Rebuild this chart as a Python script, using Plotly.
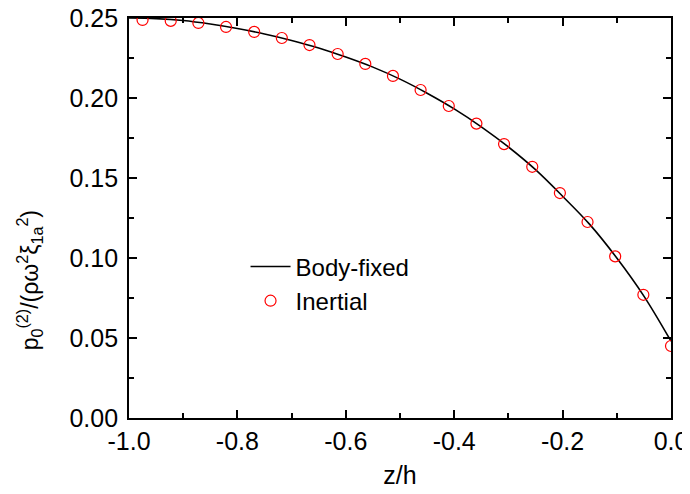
import plotly.graph_objects as go

# Body-fixed (solid line) readings
line_z = [-1.00, -0.95, -0.90, -0.85, -0.80, -0.75, -0.70, -0.65, -0.60, -0.55, -0.50,
          -0.45, -0.40, -0.35, -0.30, -0.25, -0.20, -0.15, -0.10, -0.05, 0.00]
line_p = [0.2500, 0.2496, 0.2484, 0.2462, 0.2434, 0.2400, 0.2360, 0.2313, 0.2256, 0.2193, 0.2118,
          0.2030, 0.1932, 0.1820, 0.1694, 0.1552, 0.1386, 0.1210, 0.1000, 0.0762, 0.0480]

# Inertial (open circles) readings
pt_z = [-0.975, -0.923, -0.872, -0.821, -0.769, -0.718, -0.667, -0.615, -0.564, -0.513,
        -0.462, -0.410, -0.359, -0.308, -0.256, -0.205, -0.154, -0.103, -0.051, 0.000]
pt_p = [0.2488, 0.2482, 0.2469, 0.2444, 0.2413, 0.2375, 0.2331, 0.2275, 0.2213, 0.2138,
        0.2050, 0.1950, 0.1840, 0.1712, 0.1570, 0.1406, 0.1225, 0.1010, 0.0770, 0.0450]

x_tickvals = [-1.0, -0.8, -0.6, -0.4, -0.2, 0.0]
x_ticktext = ["-1.0", "-0.8", "-0.6", "-0.4", "-0.2", "0.0"]
y_tickvals = [0.00, 0.05, 0.10, 0.15, 0.20, 0.25]
y_ticktext = ["0.00", "0.05", "0.10", "0.15", "0.20", "0.25"]

x_title = "z/h"
y_title = "p<sub>0</sub><sup>(2)</sup>/(ρω<sup>2</sup>ξ<sub>1a</sub><sup>2</sup>)"

FONT = "Arial, Liberation Sans, sans-serif"

fig = go.Figure()
fig.add_trace(go.Scatter(x=line_z, y=line_p, mode="lines", name="Body-fixed",
                         line=dict(color="black", width=1.6, shape="spline")))
fig.add_trace(go.Scatter(x=pt_z, y=pt_p, mode="markers", name="Inertial",
                         marker=dict(symbol="circle-open", size=11, color="red",
                                     line=dict(width=1.2, color="red"))))

axis_common = dict(showline=True, linecolor="black", linewidth=1.8, mirror="ticks",
                   ticks="inside", ticklen=8, tickwidth=1.5, tickcolor="black",
                   showgrid=False, zeroline=False, ticklabeloverflow="allow",
                   tickfont=dict(family=FONT, size=25, color="black"))

fig.update_xaxes(range=[-1.0, 0.0], tickvals=x_tickvals, ticktext=x_ticktext,
                 minor=dict(ticks="inside", ticklen=5, tickwidth=1.5, tickcolor="black",
                            dtick=0.1, showgrid=False),
                 title=dict(text=x_title, font=dict(family=FONT, size=25, color="black"), standoff=13),
                 **axis_common)
fig.update_yaxes(range=[0.0, 0.25], tickvals=y_tickvals, ticktext=y_ticktext,
                 ticklabelstandoff=4,
                 minor=dict(ticks="inside", ticklen=5, tickwidth=1.5, tickcolor="black",
                            dtick=0.025, showgrid=False),
                 **axis_common)

fig.add_annotation(text=y_title, textangle=-90, xref="paper", yref="paper",
                   x=-0.184, y=0.345, xanchor="center", yanchor="middle", showarrow=False,
                   font=dict(family=FONT, size=23, color="black"))

# page body has an 8px margin: figure is sized so the plot area lands where the reference has it
fig.update_layout(
    width=682, height=486,
    margin=dict(l=121, r=19, t=10, b=76, autoexpand=False),
    plot_bgcolor="white", paper_bgcolor="white",
    font=dict(family=FONT, size=25, color="black"),
    legend=dict(x=0.215, y=0.434, xanchor="left", yanchor="top",
                bgcolor="rgba(0,0,0,0)", font=dict(family=FONT, size=24, color="black"),
                tracegroupgap=0, itemwidth=40),
    showlegend=True,
)

fig.write_html("out.html")
